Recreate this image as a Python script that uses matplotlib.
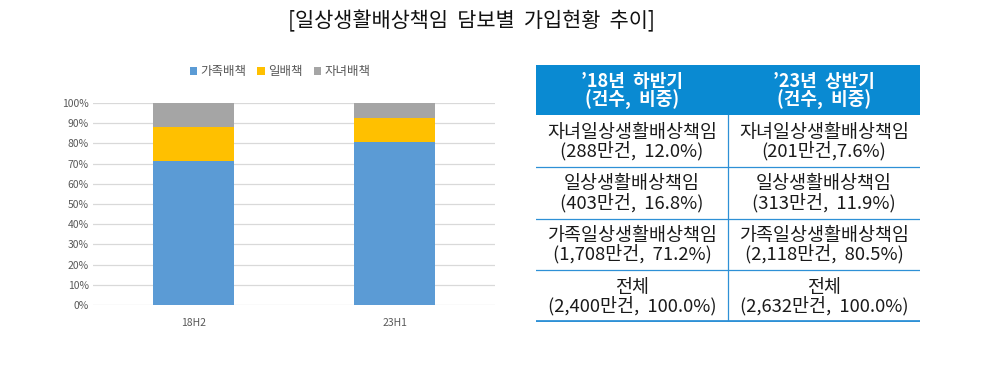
import matplotlib
matplotlib.use("Agg")
import matplotlib.pyplot as plt
import numpy as np
from matplotlib.patches import Rectangle

plt.rcParams['font.family'] = ['Noto Sans CJK KR', 'DejaVu Sans']

# --- data -------------------------------------------------------------
periods = ["18H2", "23H1"]
series_names = ["가족배책", "일배책", "자녀배책"]
family = [71.2, 80.5]
general = [16.8, 11.9]
children = [12.0, 7.6]
colors = ["#5B9BD5", "#FFC000", "#A5A5A5"]

title = "[일상생활배상책임  담보별  가입현황  추이]"
table_header = ["’18년  하반기\n(건수,  비중)", "’23년  상반기\n(건수,  비중)"]
table_rows = [
    ["자녀일상생활배상책임\n(288만건,  12.0%)", "자녀일상생활배상책임\n(201만건,7.6%)"],
    ["일상생활배상책임\n(403만건,  16.8%)", "일상생활배상책임\n(313만건,  11.9%)"],
    ["가족일상생활배상책임\n(1,708만건,  71.2%)", "가족일상생활배상책임\n(2,118만건,  80.5%)"],
    ["전체\n(2,400만건,  100.0%)", "전체\n(2,632만건,  100.0%)"],
]

W, H = 982, 365
fig = plt.figure(figsize=(W / 100, H / 100), dpi=100)

fig.text(471 / W, 1 - 21 / H, title, ha="center", va="center",
         fontsize=15, color="#111111")

# --- stacked bar chart ------------------------------------------------
ax = fig.add_axes([93 / W, 1 - 305 / H, 402 / W, 202 / H])
x = np.arange(len(periods))
bottom = np.zeros(len(periods))
for name, vals, c in zip(series_names, [family, general, children], colors):
    ax.bar(x, vals, bottom=bottom, width=0.4, color=c, label=name, zorder=3)
    bottom += np.array(vals)

ax.set_xlim(-0.5, 1.5)
ax.set_ylim(0, 100)
ax.set_yticks(np.arange(0, 101, 10))
ax.set_yticklabels([f"{v}%" for v in range(0, 101, 10)])
ax.set_xticks(x)
ax.set_xticklabels(periods)
ax.grid(axis="y", color="#D9D9D9", lw=0.9, zorder=0)
for s in ax.spines.values():
    s.set_visible(False)
ax.tick_params(length=0, labelsize=7.5, colors="#595959", pad=3)
ax.tick_params(axis="x", pad=9, labelsize=7.5)

fig.legend(loc="center", bbox_to_anchor=(280 / W, 1 - 72 / H), ncol=3,
           frameon=False, fontsize=9, handlelength=0.6, handleheight=0.6,
           handletextpad=0.25, columnspacing=0.9, labelcolor="#595959")

# --- table ------------------------------------------------------------
tl, tr, ttop, tbot = 536, 920, 65, 322
header_h = 50
tax = fig.add_axes([tl / W, 1 - tbot / H, (tr - tl) / W, (tbot - ttop) / H])
tax.set_xlim(0, tr - tl)
tax.set_ylim(tbot - ttop, 0)
tax.axis("off")

tw = tr - tl
col_w = tw / 2
row_h = (tbot - ttop - header_h) / len(table_rows)
line_col = "#2E90D6"

tax.add_patch(Rectangle((0, 0), tw, header_h, color="#0A8AD2", lw=0))
for j, txt in enumerate(table_header):
    tax.text(col_w * (j + 0.5), header_h / 2 + 1, txt, ha="center", va="center",
             color="white", fontsize=13, fontweight="bold", linespacing=0.95)

for i, row in enumerate(table_rows):
    y0 = header_h + i * row_h
    for j, txt in enumerate(row):
        tax.text(col_w * (j + 0.5), y0 + row_h / 2 + 1, txt, ha="center",
                 va="center", color="#1A1A1A", fontsize=13.3, linespacing=0.95)
    if i > 0:
        tax.plot([0, tw], [y0, y0], color=line_col, lw=0.9)

tax.plot([0, tw], [tbot - ttop - 1, tbot - ttop - 1], color=line_col, lw=2)
tax.plot([col_w, col_w], [header_h, tbot - ttop - 1], color=line_col, lw=0.9)

fig.savefig("out.png", dpi=100)
